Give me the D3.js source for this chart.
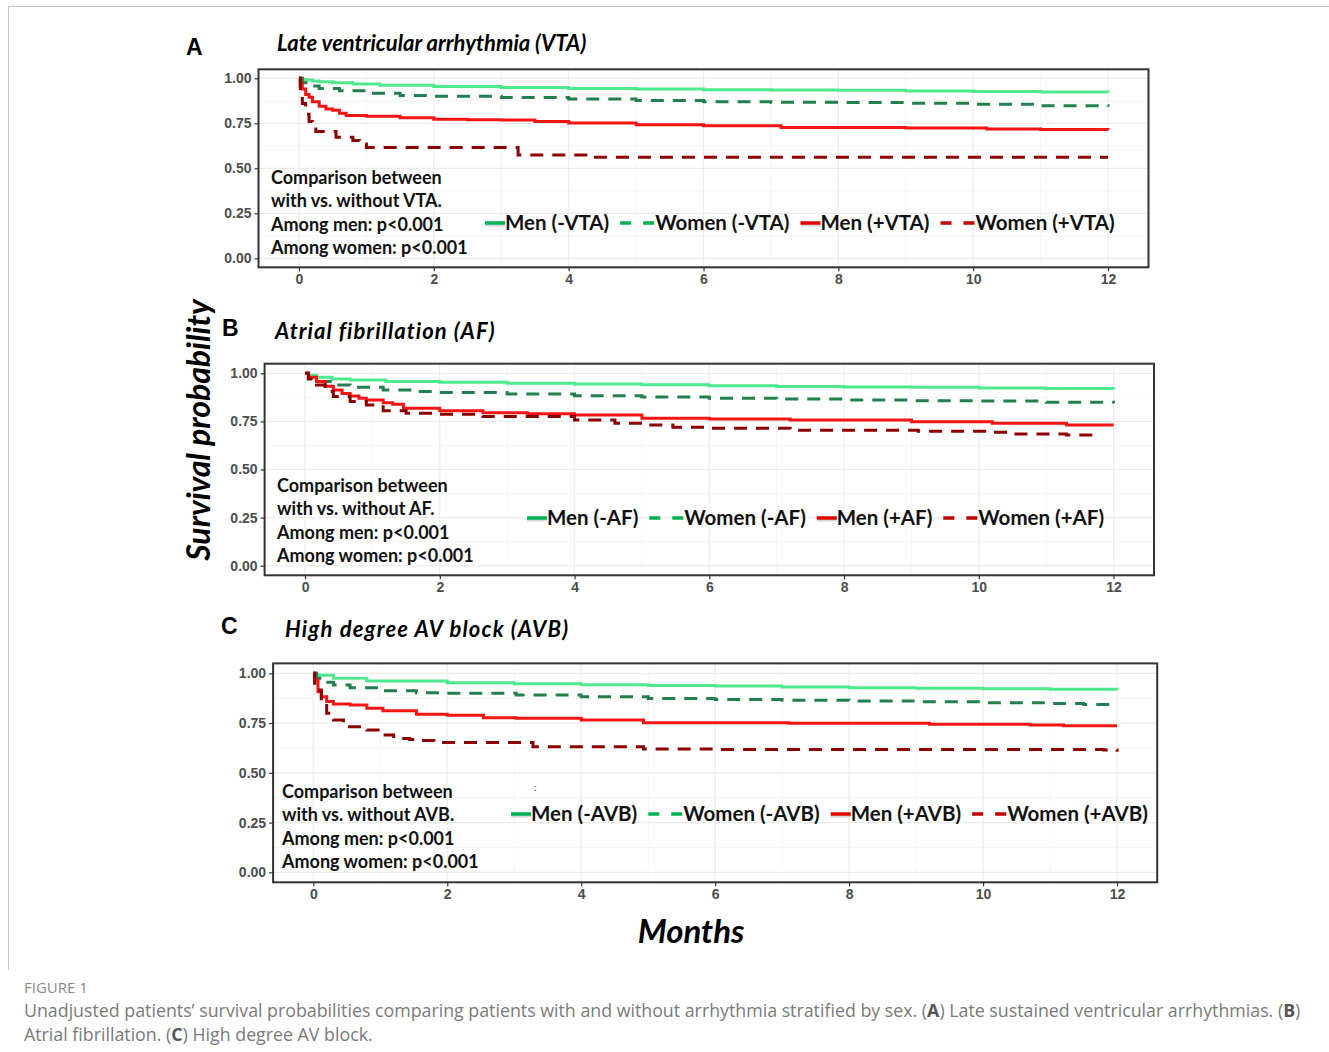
<!DOCTYPE html>
<html>
<head>
<meta charset="utf-8">
<script src="https://cdn.jsdelivr.net/npm/d3@7"></script>
<style>
  body { margin: 0; background: #fff; }
  svg { display: block; }
</style>
</head>
<body>
<div id="chart"></div>
<script>
// ---- data ----
const arrhythmias = ['VTA', 'AF', 'AVB'];
const panelTitles = ['Late ventricular arrhythmia (VTA)', 'Atrial fibrillation (AF)', 'High degree AV block (AVB)'];
const monthTicks = [0, 2, 4, 6, 8, 10, 12];
const survTicks = [0, 0.25, 0.5, 0.75, 1];

// [month, survival] step points
const vtaMenNeg = [[0,1],[0.05,0.993],[0.1,0.99],[0.2,0.985],[0.3,0.981],[0.5,0.975],[0.8,0.968],[1.2,0.962],[2,0.955],[3,0.949],[4,0.944],[5,0.94],[6,0.937],[7,0.935],[8,0.933],[9,0.93],[10,0.927],[11,0.924],[12,0.921]];
const vtaWomenNeg = [[0,1],[0.05,0.975],[0.15,0.957],[0.3,0.944],[0.6,0.931],[1,0.917],[1.5,0.905],[2,0.9],[3,0.893],[4,0.885],[5,0.877],[6,0.87],[7,0.867],[8,0.865],[9,0.862],[10,0.856],[11,0.848],[12,0.842]];
const vtaMenPos = [[0,1],[0.02,0.97],[0.05,0.94],[0.1,0.91],[0.15,0.895],[0.2,0.87],[0.3,0.845],[0.4,0.83],[0.5,0.822],[0.6,0.806],[0.7,0.793],[1,0.789],[1.5,0.781],[2,0.773],[2.5,0.77],[3,0.768],[3.5,0.76],[4,0.752],[5,0.742],[6,0.736],[7.15,0.727],[8,0.726],[9,0.724],[10.2,0.718],[11,0.716],[12,0.713]];
const vtaWomenPos = [[0,1],[0.02,0.93],[0.05,0.86],[0.1,0.8],[0.15,0.76],[0.2,0.73],[0.25,0.704],[0.55,0.672],[0.8,0.655],[0.9,0.635],[1,0.615],[3.25,0.574],[4.3,0.561],[12,0.561]];

const afMenNeg = [[0,1],[0.05,0.99],[0.17,0.979],[0.4,0.97],[0.67,0.965],[1.2,0.958],[2,0.953],[3,0.949],[4,0.945],[5,0.94],[6,0.935],[7,0.932],[8,0.929],[9,0.927],[10,0.924],[11,0.921],[12,0.918]];
const afWomenNeg = [[0,1],[0.05,0.975],[0.17,0.957],[0.42,0.939],[0.67,0.927],[1.16,0.913],[1.6,0.905],[2,0.9],[3,0.892],[4,0.884],[5,0.877],[6,0.87],[7,0.866],[8,0.861],[9,0.858],[10,0.856],[11,0.85],[12,0.844]];
const afMenPos = [[0,1],[0.05,0.98],[0.17,0.957],[0.3,0.933],[0.42,0.913],[0.55,0.895],[0.67,0.882],[0.8,0.87],[0.91,0.861],[1.16,0.847],[1.3,0.839],[1.46,0.818],[2,0.806],[2.64,0.795],[3.3,0.79],[4,0.783],[5,0.766],[6,0.763],[7.2,0.757],[9,0.748],[10.2,0.74],[11.3,0.731],[12,0.731]];
const afWomenPos = [[0,1],[0.05,0.97],[0.17,0.939],[0.3,0.905],[0.42,0.879],[0.67,0.853],[0.91,0.835],[1.16,0.806],[1.5,0.792],[2,0.787],[2.64,0.775],[4,0.757],[4.6,0.74],[5.1,0.731],[5.46,0.719],[6,0.714],[7.2,0.704],[9.1,0.699],[10.2,0.693],[10.5,0.685],[11.3,0.679],[11.8,0.679]];

const avbMenNeg = [[0,1],[0.05,0.99],[0.3,0.975],[0.8,0.961],[2,0.953],[3,0.948],[4,0.943],[5,0.939],[6,0.936],[7,0.932],[8,0.928],[9,0.925],[10,0.923],[11,0.92],[12,0.916]];
const avbWomenNeg = [[0,1],[0.05,0.975],[0.15,0.955],[0.3,0.941],[0.55,0.928],[1.04,0.913],[1.54,0.903],[2,0.9],[3.03,0.891],[4,0.883],[5,0.874],[6,0.869],[7,0.865],[8,0.861],[9,0.857],[10,0.852],[11,0.848],[11.5,0.844],[12,0.841]];
const avbMenPos = [[0,1],[0.02,0.966],[0.07,0.908],[0.12,0.883],[0.2,0.858],[0.3,0.846],[0.55,0.841],[0.8,0.824],[1.04,0.812],[1.54,0.794],[2,0.789],[2.54,0.777],[3.03,0.774],[4,0.765],[4.93,0.752],[7.1,0.749],[9.2,0.744],[10.7,0.741],[11.2,0.737],[12,0.737]];
const avbWomenPos = [[0,1],[0.02,0.95],[0.05,0.916],[0.12,0.849],[0.2,0.799],[0.3,0.765],[0.45,0.732],[0.8,0.715],[1.04,0.69],[1.2,0.673],[1.44,0.668],[1.54,0.662],[1.8,0.652],[3.28,0.631],[4.93,0.62],[6,0.617],[11.8,0.615],[12,0.606]];

const pValues = ['p<0.001', 'p<0.001'];

// ---- styles / layout ----
const seriesStyle = [
  { color: '#4fe98d', key: '#00b050', dash: null },      // Men (-)
  { color: '#22804e', key: '#00b050', dash: '13,9' },    // Women (-)
  { color: '#f31414', key: '#e00000', dash: null },      // Men (+)
  { color: '#8b0000', key: '#c00000', dash: '13,9' }     // Women (+)
];
const textFont = 'Lato, "Open Sans", sans-serif';
const tickFont = '"Liberation Sans", Arial, sans-serif';

const panels = [
  { series: [vtaMenNeg, vtaWomenNeg, vtaMenPos, vtaWomenPos],
    box: { l: 258.5, r: 1148.5, t: 69.3, b: 267.3 },
    letter: { x: 186, y: 55 }, title: { x: 277, y: 51, end: 585 },
    note: { x: 271, y: 184 }, legend: { x: 485, y: 230 } },
  { series: [afMenNeg, afWomenNeg, afMenPos, afWomenPos],
    box: { l: 264.6, r: 1154, t: 363.7, b: 575.3 },
    letter: { x: 222, y: 336 }, title: { x: 275, y: 339, end: 494 },
    note: { x: 277, y: 492 }, legend: { x: 527, y: 525 } },
  { series: [avbMenNeg, avbWomenNeg, avbMenPos, avbWomenPos],
    box: { l: 273.1, r: 1157.2, t: 663.4, b: 882.3 },
    letter: { x: 221, y: 634 }, title: { x: 285, y: 637, end: 568 },
    note: { x: 282, y: 798 }, legend: { x: 511, y: 821 } }
];

const svg = d3.select('#chart').append('svg')
  .attr('width', 1329)
  .attr('height', 1052);

// page frame (top + left rule)
svg.append('path')
  .attr('d', 'M8.5,970 L8.5,6.5 L1329,6.5')
  .attr('fill', 'none')
  .attr('stroke', '#c8c8c8')
  .attr('stroke-width', 1);

panels.forEach((p, i) => {
  const abbr = arrhythmias[i];
  const x = d3.scaleLinear().domain([-0.6, 12.6]).range([p.box.l, p.box.r]);
  const y = d3.scaleLinear().domain([-0.05, 1.05]).range([p.box.b, p.box.t]);
  const g = svg.append('g').attr('class', 'panel');

  // grid (very faint, ggplot-like)
  const minorX = d3.range(1, 12, 2);
  const minorY = [0.125, 0.375, 0.625, 0.875];
  g.append('g').selectAll('line').data(minorX).join('line')
    .attr('x1', d => x(d)).attr('x2', d => x(d))
    .attr('y1', p.box.t).attr('y2', p.box.b)
    .attr('stroke', '#f6f6f6').attr('stroke-width', 1);
  g.append('g').selectAll('line').data(minorY).join('line')
    .attr('y1', d => y(d)).attr('y2', d => y(d))
    .attr('x1', p.box.l).attr('x2', p.box.r)
    .attr('stroke', '#f6f6f6').attr('stroke-width', 1);
  g.append('g').selectAll('line').data(monthTicks).join('line')
    .attr('x1', d => x(d)).attr('x2', d => x(d))
    .attr('y1', p.box.t).attr('y2', p.box.b)
    .attr('stroke', '#ececec').attr('stroke-width', 1.2);
  g.append('g').selectAll('line').data(survTicks).join('line')
    .attr('y1', d => y(d)).attr('y2', d => y(d))
    .attr('x1', p.box.l).attr('x2', p.box.r)
    .attr('stroke', '#ececec').attr('stroke-width', 1.2);

  // survival curves
  const line = d3.line()
    .x(d => x(d[0]))
    .y(d => y(d[1]))
    .curve(d3.curveStepAfter);
  p.series.forEach((s, k) => {
    g.append('path')
      .datum(s)
      .attr('d', line)
      .attr('fill', 'none')
      .attr('stroke', seriesStyle[k].color)
      .attr('stroke-width', 3)
      .attr('stroke-dasharray', seriesStyle[k].dash);
  });

  // axes
  const xAxis = g.append('g')
    .attr('transform', `translate(0,${p.box.b})`)
    .call(d3.axisBottom(x).tickValues(monthTicks).tickSize(4).tickPadding(3).tickFormat(d3.format('d')));
  const yAxis = g.append('g')
    .attr('transform', `translate(${p.box.l},0)`)
    .call(d3.axisLeft(y).tickValues(survTicks).tickSize(4).tickPadding(3).tickFormat(d3.format('.2f')));
  [xAxis, yAxis].forEach(a => {
    a.select('.domain').remove();
    a.selectAll('.tick line').attr('stroke', '#333').attr('stroke-width', 1.2);
    a.selectAll('.tick text')
      .attr('fill', '#4d4d4d')
      .style('font-family', tickFont)
      .style('font-size', '14px')
      .style('font-weight', 'bold');
  });

  // panel border
  g.append('rect')
    .attr('x', p.box.l).attr('y', p.box.t)
    .attr('width', p.box.r - p.box.l).attr('height', p.box.b - p.box.t)
    .attr('fill', 'none').attr('stroke', '#333').attr('stroke-width', 2);

  // letter and title
  svg.append('text')
    .attr('x', p.letter.x).attr('y', p.letter.y)
    .style('font-family', tickFont).style('font-weight', 'bold').style('font-size', '23px')
    .text(String.fromCharCode(65 + i));
  const title = svg.append('text')
    .attr('x', p.title.x).attr('y', p.title.y)
    .style('font-family', textFont).style('font-weight', 'bold').style('font-style', 'italic')
    .style('font-size', '22px')
    .text(panelTitles[i]);
  // stretch spacing a little so the title spans the same width as the original
  const tw = title.node().getComputedTextLength();
  const extra = (p.title.end - p.title.x) - tw;
  if (extra > 0) title.style('letter-spacing', (extra / (panelTitles[i].length - 1)) + 'px');

  // comparison note
  const noteLines = [
    'Comparison between',
    `with vs. without ${abbr}.`,
    `Among men: ${pValues[0]}`,
    `Among women: ${pValues[1]}`
  ];
  g.append('g').selectAll('text').data(noteLines).join('text')
    .attr('x', p.note.x)
    .attr('y', (d, j) => p.note.y + j * 23.4)
    .style('font-family', textFont).style('font-weight', 'bold').style('font-size', '18px')
    .attr('fill', '#111')
    .text(d => d);

  // legend
  const legendLabels = [`Men (-${abbr})`, `Women (-${abbr})`, `Men (+${abbr})`, `Women (+${abbr})`];
  let cx = p.legend.x;
  legendLabels.forEach((lab, k) => {
    const st = seriesStyle[k];
    const kw = st.dash ? 35 : 20;
    const ky = p.legend.y - 7;
    if (!st.dash) {
      g.append('line')
        .attr('x1', cx).attr('x2', cx + kw)
        .attr('y1', ky + 2.5).attr('y2', ky + 2.5)
        .attr('stroke', '#bbb').attr('stroke-width', 2).attr('opacity', 0.6);
    }
    g.append('line')
      .attr('x1', cx).attr('x2', cx + kw)
      .attr('y1', ky).attr('y2', ky)
      .attr('stroke', st.key).attr('stroke-width', 3.5)
      .attr('stroke-dasharray', st.dash ? '11,12' : null);
    const t = g.append('text')
      .attr('x', cx + kw).attr('y', p.legend.y)
      .style('font-family', textFont).style('font-weight', 'bold').style('font-size', '20.5px')
      .attr('fill', '#111')
      .text(lab);
    cx += kw + t.node().getComputedTextLength() + 11;
  });
});

// stray colon mark in panel C
svg.append('text')
  .attr('x', 534).attr('y', 791)
  .style('font-family', textFont).style('font-size', '10px').attr('fill', '#333')
  .text(':');

// shared axis titles
svg.append('text')
  .attr('transform', 'translate(210,430) rotate(-90)')
  .attr('text-anchor', 'middle')
  .style('font-family', textFont).style('font-weight', 'bold').style('font-style', 'italic')
  .style('font-size', '32px')
  .text('Survival probability');
svg.append('text')
  .attr('x', 691).attr('y', 943)
  .attr('text-anchor', 'middle')
  .style('font-family', textFont).style('font-weight', 'bold').style('font-style', 'italic')
  .style('font-size', '33px')
  .text('Months');

// caption
const capFont = '"Open Sans", "Noto Sans", sans-serif';
svg.append('text')
  .attr('x', 24).attr('y', 993)
  .style('font-family', capFont).style('font-size', '15px').attr('fill', '#8a8a8a')
  .text('FIGURE 1');
const cap1 = svg.append('text')
  .attr('x', 24).attr('y', 1017)
  .style('font-family', capFont).style('font-size', '17.8px').attr('fill', '#7a7a7a');
cap1.append('tspan').text('Unadjusted patients’ survival probabilities comparing patients with and without arrhythmia stratified by sex. (');
cap1.append('tspan').style('font-weight', 'bold').attr('fill', '#555').text('A');
cap1.append('tspan').text(') Late sustained ventricular arrhythmias. (');
cap1.append('tspan').style('font-weight', 'bold').attr('fill', '#555').text('B');
cap1.append('tspan').text(')');
const cap2 = svg.append('text')
  .attr('x', 24).attr('y', 1041)
  .style('font-family', capFont).style('font-size', '17.8px').attr('fill', '#7a7a7a');
cap2.append('tspan').text('Atrial fibrillation. (');
cap2.append('tspan').style('font-weight', 'bold').attr('fill', '#555').text('C');
cap2.append('tspan').text(') High degree AV block.');
</script>
</body>
</html>
